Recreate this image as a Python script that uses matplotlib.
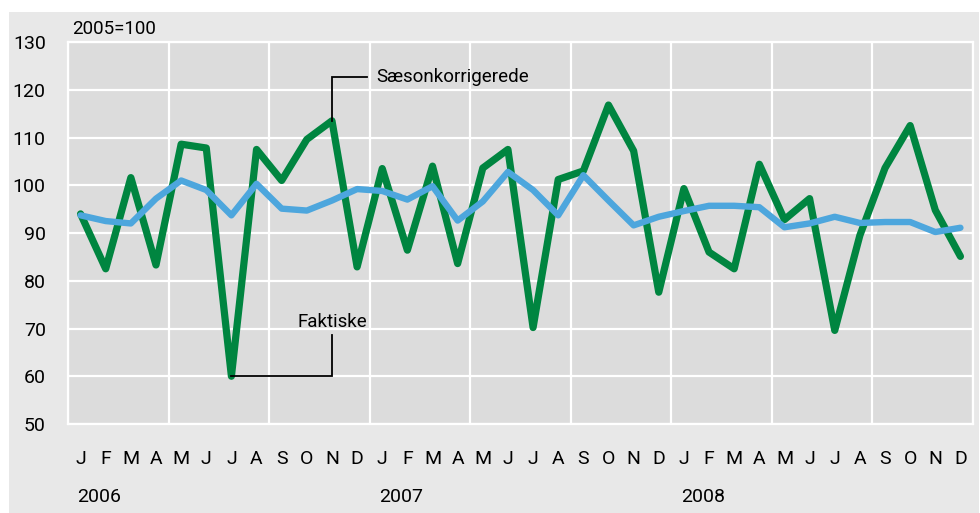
import matplotlib
matplotlib.use("Agg")
import matplotlib.pyplot as plt
from matplotlib.patches import Rectangle
from matplotlib.ticker import FixedLocator

plt.rcParams['font.family'] = ['Roboto', 'DejaVu Sans']

months = ["J", "F", "M", "A", "M", "J", "J", "A", "S", "O", "N", "D"] * 3
years = ["2006", "2007", "2008"]

faktiske = [94, 82.5, 101.6, 83.3, 108.6, 107.8, 60, 107.5, 101, 109.6, 113.5, 82.9,
            103.5, 86.4, 104, 83.6, 103.6, 107.5, 70.2, 101.2, 103, 116.8, 107.2, 77.6,
            99.3, 86, 82.5, 104.4, 92.8, 97.2, 69.6, 89.5, 103.6, 112.5, 94.8, 85.1]
saeson = [93.7, 92.5, 92, 97.2, 101, 99, 93.7, 100.3, 95.1, 94.7, 96.8, 99.2,
          98.8, 97, 99.8, 92.6, 96.6, 102.8, 99, 93.7, 102.1, 96.8, 91.6, 93.4,
          94.6, 95.7, 95.7, 95.4, 91.2, 92, 93.4, 92.1, 92.3, 92.3, 90.2, 91.1]
yticks = [50, 60, 70, 80, 90, 100, 110, 120, 130]

W, H = 980, 513
fig = plt.figure(figsize=(W / 100, H / 100), dpi=100)
fig.patch.set_facecolor("white")
fig.add_artist(Rectangle((9 / W, 0), (979 - 9) / W, (513 - 12) / H,
                         transform=fig.transFigure, facecolor="#e8e8e8",
                         edgecolor="none", zorder=0))

ax = fig.add_axes([68 / W, (H - 424) / H, (973 - 68) / W, (424 - 42) / H])
ax.set_facecolor("#dcdcdc")
x = list(range(len(months)))
ax.set_xlim(-0.5, len(months) - 0.5)
ax.set_ylim(50, 130)

ax.plot(x, faktiske, color="#008540", lw=5.2, solid_joinstyle="round",
        solid_capstyle="round", zorder=3)
ax.plot(x, saeson, color="#4da6dd", lw=4.6, solid_joinstyle="round",
        solid_capstyle="round", zorder=4)

ax.set_yticks(yticks)
ax.set_xticks(x)
ax.set_xticklabels(months)
ax.xaxis.set_minor_locator(FixedLocator([i - 0.5 for i in range(0, 37, 4)]))
ax.grid(False)
ax.grid(True, which="minor", axis="x", color="white", lw=1.6)
ax.grid(True, which="major", axis="y", color="white", lw=1.6)
ax.set_axisbelow(True)
ax.tick_params(axis="both", which="both", length=0)
ax.tick_params(axis="y", pad=16, labelsize=14)
ax.tick_params(axis="x", pad=19, labelsize=14)
for s in ax.spines.values():
    s.set_color("white")
    s.set_linewidth(1.6)

for i, yr in enumerate(years):
    ax.text(i * 12 - 0.12, -0.19, yr, transform=ax.get_xaxis_transform(),
            ha="left", va="center", fontsize=14)

fig.text(72 / W, 1 - 29 / H, "2005=100", ha="left", va="center", fontsize=13.5)

# leader for "Sæsonkorrigerede" (anchored at Nov 2006 point)
i_n = 10
ax.plot([i_n, i_n, i_n + 1.38], [faktiske[i_n], 122.7, 122.7], color="black",
        lw=1.3, zorder=5, solid_joinstyle="miter")
ax.text(i_n + 1.78, 122.7, "Sæsonkorrigerede", ha="left", va="center", fontsize=13.5)

# leader for "Faktiske" (anchored at Jul 2006 point)
i_j = 6
ax.plot([i_j, 10, 10], [faktiske[i_j], faktiske[i_j], 68.6], color="black",
        lw=1.3, zorder=5, solid_joinstyle="miter")
ax.text(10, 71.4, "Faktiske", ha="center", va="center", fontsize=13.5)

fig.savefig("out.png", dpi=100)
